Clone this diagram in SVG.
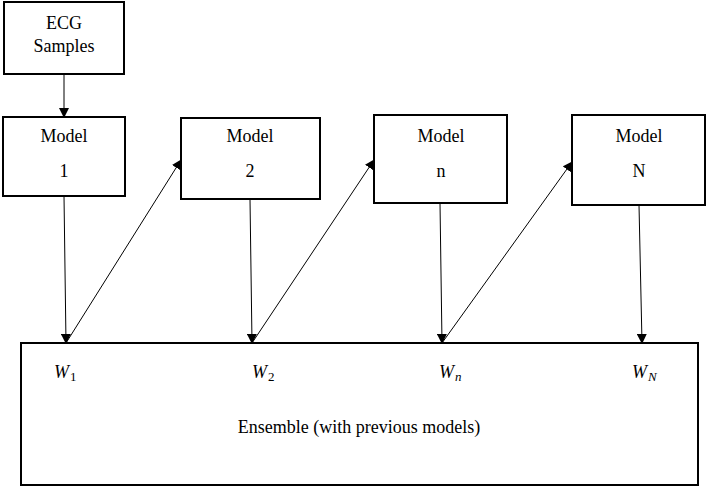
<svg xmlns="http://www.w3.org/2000/svg" width="708" height="487" viewBox="0 0 708 487">
<style>
.box{fill:#fff;stroke:#000;stroke-width:2}
.t{font-family:"Liberation Serif","Times New Roman",serif;font-size:18px;fill:#000;text-anchor:middle}
.w{font-family:"Liberation Serif","Times New Roman",serif;font-style:italic;font-size:18px;fill:#000}
.sub{font-size:13px;font-style:normal}
.subi{font-style:italic}
.c{stroke:#000;stroke-width:1;fill:none;marker-end:url(#ah)}
</style>
<defs>
<marker id="ah" markerWidth="10" markerHeight="10" refX="9" refY="5" orient="auto" markerUnits="userSpaceOnUse">
<path d="M0,0 L10,5 L0,10 z" fill="#000"/>
</marker>
</defs>
<g id="ecg"><rect class="box" x="4" y="2" width="120" height="72"/><text class="t" x="64" y="29">ECG</text><text class="t" x="64" y="52">Samples</text></g>
<g id="model1"><rect class="box" x="3" y="117" width="122" height="79"/><text class="t" x="64" y="142">Model</text><text class="t" x="64" y="177">1</text></g>
<g id="model2"><rect class="box" x="181" y="118" width="139" height="81"/><text class="t" x="250" y="142">Model</text><text class="t" x="250" y="177">2</text></g>
<g id="modeln"><rect class="box" x="374" y="115" width="133" height="88"/><text class="t" x="441" y="142">Model</text><text class="t" x="441" y="177">n</text></g>
<g id="modelN"><rect class="box" x="572" y="115" width="133" height="90"/><text class="t" x="639" y="142">Model</text><text class="t" x="639" y="177">N</text></g>
<g id="ensemble"><rect class="box" x="21" y="343" width="677" height="142"/>
<text class="w" x="54" y="378">W<tspan class="sub" dx="1" dy="3">1</tspan></text>
<text class="w" x="252" y="378">W<tspan class="sub" dx="1" dy="3">2</tspan></text>
<text class="w" x="439" y="378">W<tspan class="sub subi" dx="1" dy="3">n</tspan></text>
<text class="w" x="632" y="378">W<tspan class="sub subi" dx="1" dy="3">N</tspan></text>
<text class="t" x="359" y="433">Ensemble (with previous models)</text></g>
<g id="connectors">
<line class="c" x1="64" y1="74" x2="64" y2="117"/>
<line class="c" x1="64" y1="196" x2="66" y2="343"/>
<line class="c" x1="66" y1="343" x2="181" y2="160"/>
<line class="c" x1="250" y1="199" x2="252" y2="343"/>
<line class="c" x1="252" y1="343" x2="374" y2="160"/>
<line class="c" x1="440" y1="203" x2="442" y2="343"/>
<line class="c" x1="442" y1="343" x2="572" y2="162"/>
<line class="c" x1="639" y1="205" x2="642" y2="343"/>
</g>
</svg>
